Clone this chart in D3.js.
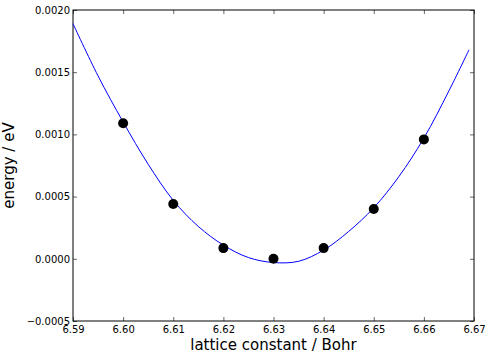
<!DOCTYPE html>
<html>
<head>
<meta charset="utf-8">
<script src="https://cdn.jsdelivr.net/npm/d3@7"></script>
<style>
  body { margin: 0; background: white; }
  #chart text { font-family: "DejaVu Sans", sans-serif; }
</style>
</head>
<body>
<div id="chart"></div>
<script>
// measured points
var latticeA = [6.60, 6.61, 6.62, 6.63, 6.64, 6.65, 6.66];
var energies = [0.00109, 0.00044, 0.000086, 0.0000, 0.000086, 0.00040, 0.00096];

// fitted curve
var fitA = [6.590, 6.595, 6.600, 6.605, 6.610, 6.615, 6.620, 6.625, 6.630, 6.635, 6.640, 6.645, 6.650, 6.655, 6.660, 6.665, 6.669];
var fitE = [0.00189, 0.00147, 0.00110, 0.00076, 0.00047, 0.00026, 0.00011, 0.00001, -0.00003, -0.00002, 0.00007, 0.00022, 0.00041, 0.00066, 0.00097, 0.00135, 0.00168];

var xTicks = [6.59, 6.60, 6.61, 6.62, 6.63, 6.64, 6.65, 6.66, 6.67];
var yTicks = [-0.0005, 0.0000, 0.0005, 0.0010, 0.0015, 0.0020];

var margin = {top: 10, right: 17, bottom: 37, left: 73};
var width = 491 - margin.left - margin.right;
var height = 358 - margin.top - margin.bottom;

var svg = d3.select("#chart")
  .append("svg")
    .attr("width", 491)
    .attr("height", 358)
  .append("g")
    .attr("transform", "translate(" + margin.left + "," + margin.top + ")");

var x = d3.scaleLinear()
    .domain([6.59, 6.67])
    .range([0, width]);

var y = d3.scaleLinear()
    .domain([-0.0005, 0.0020])
    .range([height, 0]);

// axes, ticks pointing inward like matplotlib
var xAxis = svg.append("g")
    .attr("transform", "translate(0," + height + ")")
    .call(d3.axisBottom(x).tickValues(xTicks).tickFormat(d3.format(".2f"))
        .tickSizeInner(-4).tickSizeOuter(0).tickPadding(5));

var xTop = svg.append("g")
    .call(d3.axisTop(x).tickValues(xTicks).tickFormat("")
        .tickSizeInner(-4).tickSizeOuter(0));

var yAxis = svg.append("g")
    .call(d3.axisLeft(y).tickValues(yTicks).tickFormat(d3.format(".4f"))
        .tickSizeInner(-4).tickSizeOuter(0).tickPadding(3));

var yRight = svg.append("g")
    .attr("transform", "translate(" + width + ",0)")
    .call(d3.axisRight(y).tickValues(yTicks).tickFormat("")
        .tickSizeInner(-4).tickSizeOuter(0));

svg.selectAll(".domain").remove();
svg.selectAll(".tick line").attr("stroke", "black").attr("stroke-width", 0.6);
svg.selectAll(".tick text")
    .style("font-size", "10px")
    .attr("fill", "black");

// frame
svg.append("rect")
    .attr("width", width)
    .attr("height", height)
    .attr("fill", "none")
    .attr("stroke", "black")
    .attr("stroke-width", 1);

var line = d3.line()
    .x(function(d, i) { return x(fitA[i]); })
    .y(function(d) { return y(d); })
    .curve(d3.curveCatmullRom);

svg.append("path")
    .datum(fitE)
    .attr("d", line)
    .attr("fill", "none")
    .attr("stroke", "#0000ff")
    .attr("stroke-width", 1);

svg.selectAll(".pt")
    .data(energies)
    .enter()
    .append("circle")
      .attr("class", "pt")
      .attr("cx", function(d, i) { return x(latticeA[i]); })
      .attr("cy", function(d) { return y(d); })
      .attr("r", 5)
      .attr("fill", "black");

// axis labels
svg.append("text")
    .attr("x", width / 2)
    .attr("y", height + 29)
    .attr("text-anchor", "middle")
    .style("font-size", "15px")
    .text("lattice constant / Bohr");

svg.append("text")
    .attr("transform", "translate(" + (-59) + "," + (height / 2) + ") rotate(-90)")
    .attr("text-anchor", "middle")
    .style("font-size", "15px")
    .text("energy / eV");
</script>
</body>
</html>
